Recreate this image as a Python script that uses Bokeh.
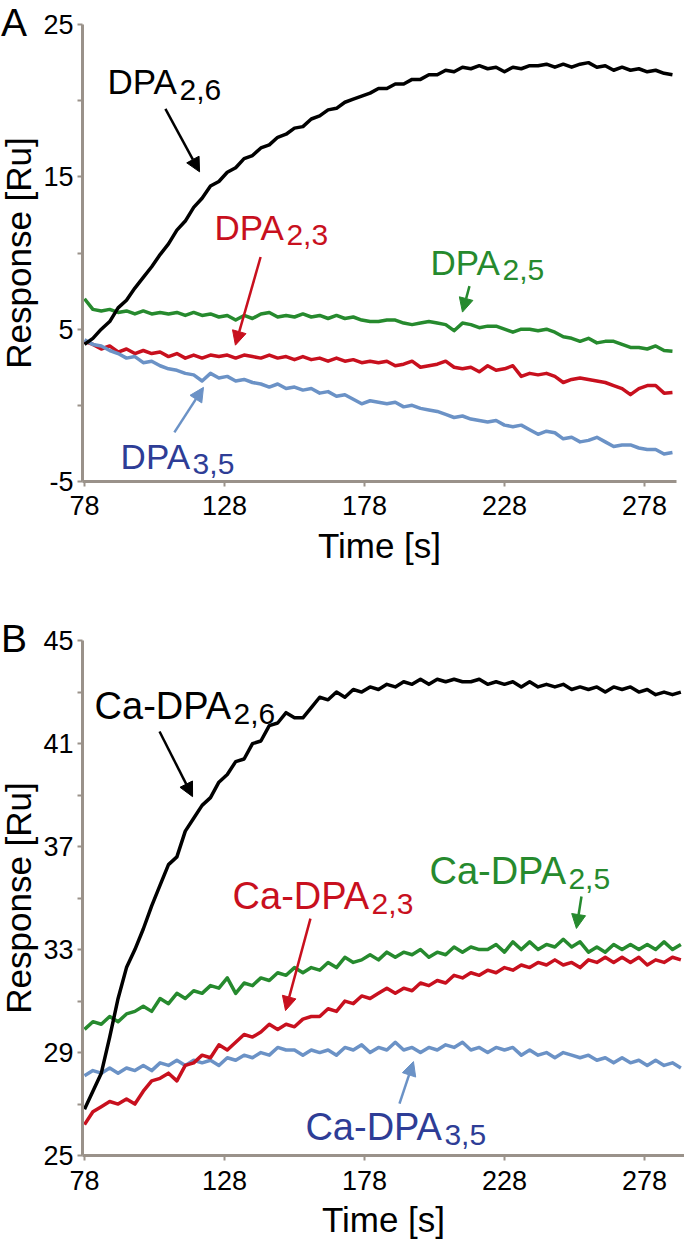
from bokeh.plotting import figure
from bokeh.models import Arrow, NormalHead, FixedTicker, Range1d
from bokeh.layouts import column
from bokeh.core.properties import value
from bokeh.embed import file_html
from bokeh.resources import INLINE

# ---------------- data ----------------
TIME_A = list(range(78, 289, 3))
TIME_B = list(range(78, 292, 3))
X_TICKS = [78, 128, 178, 228, 278]
Y_TICKS_A = [-5, 5, 15, 25]
Y_MINOR_A = [0, 10, 20]
Y_TICKS_B = [25, 29, 33, 37, 41, 45]
Y_MINOR_B = [27, 31, 35, 39, 43]

A_DPA26 = [4.0, 4.4, 5.0, 5.5, 6.4, 6.9, 7.7, 8.4, 9.1, 9.9,
           10.6, 11.5, 12.1, 13.0, 13.6, 14.4, 14.7, 15.3, 15.6, 16.2,
           16.4, 16.9, 17.1, 17.6, 17.8, 18.2, 18.3, 18.8, 19.0, 19.4,
           19.5, 19.9, 20.1, 20.3, 20.5, 20.8, 20.8, 21.1, 21.1, 21.4,
           21.4, 21.7, 21.7, 22.0, 21.9, 22.2, 22.1, 22.3, 22.1, 22.2,
           21.9, 22.2, 22.1, 22.3, 22.3, 22.4, 22.2, 22.4, 22.2, 22.4,
           22.5, 22.2, 22.3, 22.0, 22.2, 22.0, 22.1, 21.9, 22.0, 21.8,
           21.7]
A_DPA25 = [7.0, 6.3, 6.2, 6.3, 6.1, 6.2, 6.0, 6.2, 6.0, 6.1,
           6.0, 6.1, 5.9, 6.1, 5.9, 6.0, 5.8, 5.9, 5.6, 5.9,
           5.7, 6.0, 6.1, 5.8, 5.9, 5.8, 6.0, 5.8, 5.9, 5.7,
           5.9, 5.7, 5.8, 5.6, 5.5, 5.5, 5.6, 5.6, 5.4, 5.3,
           5.4, 5.5, 5.4, 5.3, 4.9, 5.4, 5.3, 5.1, 5.2, 5.2,
           5.0, 4.8, 5.0, 5.0, 4.9, 5.0, 4.8, 4.5, 4.4, 4.2,
           4.4, 4.1, 4.2, 4.2, 4.0, 3.8, 3.8, 3.7, 3.9, 3.6,
           3.55]
A_DPA23 = [4.2, 4.0, 3.7, 3.9, 3.5, 3.7, 3.4, 3.6, 3.4, 3.5,
           3.2, 3.4, 3.1, 3.3, 3.1, 3.3, 3.2, 3.3, 3.1, 3.3,
           3.2, 3.1, 3.3, 3.1, 3.2, 3.0, 3.2, 3.0, 3.1, 2.9,
           3.1, 2.9, 3.0, 2.8, 2.9, 2.8, 2.9, 2.6, 2.7, 2.9,
           2.5, 2.6, 2.7, 2.9, 2.5, 2.4, 2.5, 2.2, 2.6, 2.3,
           2.4, 2.6, 1.9, 2.1, 2.0, 2.1, 1.9, 1.5, 1.7, 1.8,
           1.7, 1.6, 1.5, 1.3, 1.1, 0.7, 1.1, 1.3, 1.3, 0.8,
           0.85]
A_DPA35 = [4.3, 4.0, 3.9, 3.6, 3.4, 3.1, 3.2, 2.8, 2.9, 2.6,
           2.4, 2.3, 2.1, 2.0, 1.6, 2.1, 1.8, 1.9, 1.6, 1.7,
           1.5, 1.4, 1.2, 1.4, 1.1, 1.2, 1.0, 1.1, 0.8, 0.9,
           0.6, 0.7, 0.4, 0.1, 0.3, 0.2, 0.1, 0.2, -0.1, 0.0,
           -0.2, -0.3, -0.4, -0.6, -0.8, -0.7, -0.9, -1.0, -1.1, -1.0,
           -1.3, -1.4, -1.3, -1.6, -1.9, -1.7, -1.8, -2.2, -2.1, -2.4,
           -2.3, -2.1, -2.4, -2.7, -2.6, -2.6, -2.8, -2.9, -2.9, -3.2,
           -3.1]

B_DPA26 = [26.8, 27.5, 28.2, 29.6, 31.1, 32.3, 33.0, 33.8, 34.7, 35.5,
           36.3, 36.6, 37.6, 38.1, 38.6, 38.9, 39.5, 39.8, 40.3, 40.4,
           41.0, 41.1, 41.7, 41.8, 42.2, 42.0, 42.0, 42.4, 42.8, 42.7,
           43.0, 42.8, 43.1, 43.0, 43.2, 43.1, 43.3, 43.2, 43.4, 43.3,
           43.5, 43.3, 43.5, 43.4, 43.5, 43.4, 43.4, 43.5, 43.3, 43.4,
           43.3, 43.4, 43.2, 43.4, 43.2, 43.3, 43.2, 43.3, 43.1, 43.2,
           43.1, 43.2, 43.0, 43.2, 43.1, 43.2, 43.0, 43.1, 42.9, 43.0,
           42.9, 43.0]
B_DPA25 = [29.9, 30.2, 30.1, 30.4, 30.2, 30.5, 30.6, 30.8, 30.6, 31.1,
           30.9, 31.3, 31.1, 31.4, 31.3, 31.6, 31.5, 31.9, 31.3, 31.7,
           31.6, 31.9, 31.8, 32.1, 32.0, 32.3, 32.1, 32.3, 32.2, 32.5,
           32.3, 32.7, 32.5, 32.6, 32.8, 32.6, 32.9, 32.7, 32.9, 32.8,
           33.0, 32.7, 32.9, 32.8, 33.1, 32.9, 33.1, 33.0, 33.0, 33.2,
           32.9, 33.3, 33.0, 33.3, 33.0, 33.2, 33.1, 33.4, 33.1, 33.3,
           32.9, 33.1, 32.9, 33.2, 33.0, 33.2, 33.0, 33.2, 33.0, 33.3,
           33.0, 33.2]
B_DPA23 = [26.2, 26.7, 26.9, 27.1, 27.0, 27.2, 27.0, 27.5, 27.9, 28.0,
           28.2, 27.9, 28.5, 28.6, 28.9, 28.8, 29.3, 29.1, 29.4, 29.7,
           29.6, 29.8, 30.1, 29.9, 30.1, 30.0, 30.3, 30.4, 30.4, 30.7,
           30.6, 31.0, 30.9, 31.2, 31.1, 31.3, 31.5, 31.3, 31.5, 31.4,
           31.7, 31.6, 31.8, 31.7, 32.0, 31.9, 32.1, 32.0, 32.2, 32.1,
           32.3, 32.2, 32.4, 32.3, 32.5, 32.4, 32.6, 32.4, 32.5, 32.3,
           32.6, 32.5, 32.7, 32.5, 32.7, 32.5, 32.7, 32.4, 32.6, 32.5,
           32.7, 32.6]
B_DPA35 = [28.1, 28.3, 28.2, 28.4, 28.2, 28.4, 28.3, 28.5, 28.3, 28.6,
           28.5, 28.7, 28.5, 28.7, 28.6, 28.7, 28.5, 28.8, 28.7, 28.9,
           28.8, 29.0, 28.9, 29.2, 29.1, 29.1, 28.9, 29.1, 29.0, 29.1,
           28.9, 29.2, 29.1, 29.3, 29.0, 29.2, 29.1, 29.4, 29.1, 29.2,
           29.0, 29.2, 29.1, 29.3, 29.2, 29.4, 29.1, 29.2, 29.0, 29.2,
           29.1, 29.2, 28.9, 29.1, 28.9, 29.0, 28.8, 29.0, 28.9, 28.8,
           28.9, 28.7, 28.8, 28.6, 28.8, 28.6, 28.7, 28.5, 28.7, 28.5,
           28.6, 28.4]

# ---------------- style ----------------
FONT = "Liberation Sans"
AXIS_C = "#9a928a"
BLACK = "#000000"
RED = "#c8101e"
GREEN = "#268a2e"
BLUE_LINE = "#6b92c6"
BLUE_TEXT = "#2e3d96"

X0 = 77.3          # position of the y axis (data units)
TEXT_LIFT = 10     # px correction for the text baseline


def make_fig(height, xr, yr, xbounds, ybounds, yticks, yminor):
    p = figure(width=684, height=height, min_border=0,
               x_range=Range1d(*xr), y_range=Range1d(*yr),
               output_backend="svg", toolbar_location=None)
    p.xgrid.visible = False
    p.ygrid.visible = False
    p.outline_line_color = None
    p.background_fill_color = "white"
    p.border_fill_color = "white"
    p.xaxis.ticker = FixedTicker(ticks=X_TICKS, minor_ticks=[])
    p.yaxis.ticker = FixedTicker(ticks=yticks, minor_ticks=yminor)
    p.yaxis.major_label_overrides = {t: str(t) for t in yticks}
    p.xaxis.fixed_location = ybounds[0]
    p.yaxis.fixed_location = X0
    p.xaxis.bounds = xbounds
    p.yaxis.bounds = ybounds
    for ax in (p.xaxis, p.yaxis):
        ax.axis_line_color = AXIS_C
        ax.axis_line_width = 3
        ax.major_tick_line_color = AXIS_C
        ax.major_tick_line_width = 2
        ax.major_tick_in = 0
        ax.major_tick_out = 5
        ax.minor_tick_line_color = AXIS_C
        ax.minor_tick_line_width = 2
        ax.minor_tick_in = 0
        ax.minor_tick_out = 5
        ax.major_label_text_font = FONT
        ax.major_label_text_font_size = "27px"
        ax.major_label_text_color = "black"
        ax.axis_label_text_font = FONT
        ax.axis_label_text_font_size = "35px"
        ax.axis_label_text_font_style = "normal"
        ax.axis_label_text_color = "black"
    p.xaxis.major_label_standoff = 10
    p.xaxis.axis_label_standoff = 7
    p.yaxis.major_label_standoff = 4
    p.yaxis.axis_label_standoff = 2
    p.xaxis.axis_label = "Time [s]"
    p.yaxis.axis_label = "Response [Ru]"
    return p


def add_text(p, x, y, txt, color, size, ppu, x_offset=0):
    p.text(x=[x], y=[y + TEXT_LIFT / ppu], text=[txt], text_font=value(FONT),
           text_font_size=value(size), text_color=color,
           text_baseline=value("alphabetic"), text_align=value("left"),
           x_offset=x_offset)


def add_label(p, x, y, main, sub, color, size, main_w, ppu):
    add_text(p, x, y, main, color, size, ppu)
    add_text(p, x, y - 8 / ppu, sub, color, "30px", ppu, main_w)


def add_arrow(p, x0, y0, x1, y1, color):
    p.add_layout(Arrow(end=NormalHead(size=14, fill_color=color, line_color=color),
                       x_start=x0, y_start=y0, x_end=x1, y_end=y1,
                       line_color=color, line_width=2.5))


XR = (48.0, 292.3)

# ---------------- panel A ----------------
PPU_A = 15.23
pa = make_fig(594, XR, (-12.42, 26.58), (X0, 289.4), (-5, 25), Y_TICKS_A, Y_MINOR_A)
for ys, c in ((A_DPA25, GREEN), (A_DPA23, RED), (A_DPA35, BLUE_LINE), (A_DPA26, BLACK)):
    pa.line(TIME_A[:len(ys)], ys, line_color=c, line_width=3.5, line_join="round")

add_label(pa, 86.2, 20.6, "DPA", "2,6", BLACK, "35px", 72, PPU_A)
add_label(pa, 124.4, 11.05, "DPA", "2,3", RED, "35px", 72, PPU_A)
add_label(pa, 201.6, 8.75, "DPA", "2,5", GREEN, "35px", 72, PPU_A)
add_label(pa, 90.9, -4.01, "DPA", "3,5", BLUE_TEXT, "35px", 72, PPU_A)
add_arrow(pa, 106.9, 19.47, 119.1, 15.33, BLACK)
add_arrow(pa, 140.9, 9.74, 131.9, 3.95, RED)
add_arrow(pa, 215.5, 7.83, 213.0, 6.12, GREEN)
add_arrow(pa, 110.1, -1.78, 120.5, 1.18, BLUE_LINE)
add_text(pa, 48.2, 24.47, "A", BLACK, "39px", PPU_A)

# ---------------- panel B ----------------
PPU_B = 25.75
pb = make_fig(645, XR, (21.74, 46.79), (X0, 292.3), (25, 45), Y_TICKS_B, Y_MINOR_B)
for ys, c in ((B_DPA25, GREEN), (B_DPA35, BLUE_LINE), (B_DPA23, RED), (B_DPA26, BLACK)):
    pb.line(TIME_B[:len(ys)], ys, line_color=c, line_width=3.5, line_join="round")

add_label(pb, 81.6, 42.09, "Ca-DPA", "2,6", BLACK, "38px", 139, PPU_B)
add_label(pb, 130.9, 34.71, "Ca-DPA", "2,3", RED, "38px", 139, PPU_B)
add_label(pb, 201.2, 35.68, "Ca-DPA", "2,5", GREEN, "38px", 139, PPU_B)
add_label(pb, 156.9, 25.74, "Ca-DPA", "3,5", BLUE_TEXT, "38px", 139, PPU_B)
add_arrow(pb, 104.8, 41.47, 116.6, 38.94, BLACK)
add_arrow(pb, 158.7, 34.2, 149.8, 30.63, RED)
add_arrow(pb, 255.5, 35.06, 253.7, 33.82, GREEN)
add_arrow(pb, 190.5, 27.02, 195.5, 28.65, BLUE_LINE)
add_text(pb, 48.2, 44.69, "B", BLACK, "39px", PPU_B)

layout = column(pa, pb, spacing=0)
open("out.html", "w").write(file_html(layout, INLINE))
